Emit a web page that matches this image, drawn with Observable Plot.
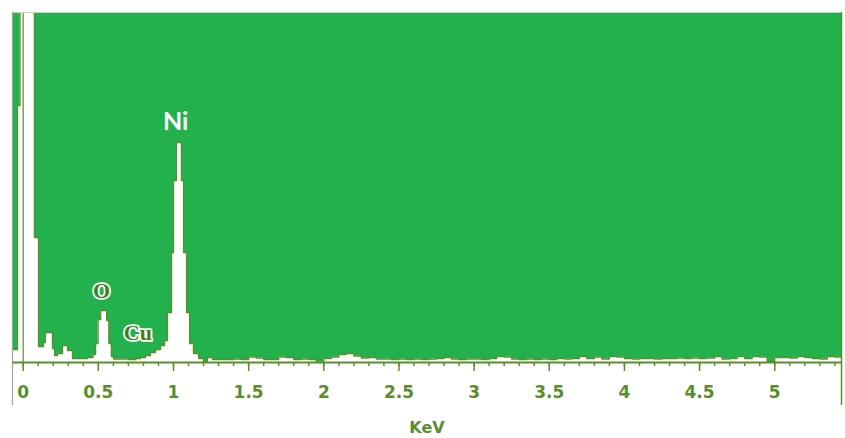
<!DOCTYPE html>
<html><head><meta charset="utf-8">
<script src="https://cdn.jsdelivr.net/npm/d3@7"></script>
<script src="https://cdn.jsdelivr.net/npm/@observablehq/plot@0.6"></script>
<style>body{margin:0;background:#fff}</style>
</head><body><div id="chart"></div>
<script>
// Spectrum: bin start energy (keV) and counts (step-after)
const energy = [-0.071,-0.038,-0.021,0.075,0.102,0.135,0.148,0.195,0.209,0.228,0.262,0.295,0.328,0.348,0.428,
  0.465,0.482,0.498,0.516,0.556,0.571,0.587,0.601,0.70,0.75,0.780,0.814,0.847,0.881,0.914,0.941,0.960,
  0.987,1.000,1.020,1.053,1.067,1.087,1.107,1.133,1.167,1.200,1.226,1.260,
  1.30,1.35,1.40,1.45,1.50,1.55,1.60,1.65,1.70,1.75,1.80,1.85,1.90,1.95,2.00,2.05,2.10,2.15,2.20,2.25,
  2.30,2.35,2.40,2.45,2.50,2.55,2.60,2.65,2.70,2.75,2.80,2.85,2.90,2.95,3.00,3.05,3.10,3.15,3.20,3.25,
  3.30,3.35,3.40,3.45,3.50,3.55,3.60,3.65,3.70,3.75,3.80,3.85,3.90,3.95,4.00,4.05,4.10,4.15,4.20,4.25,
  4.30,4.35,4.40,4.45,4.50,4.55,4.60,4.65,4.70,4.75,4.80,4.85,4.90,4.95,5.00,5.05,5.10,5.15,5.20,5.25,
  5.30,5.35,5.40,5.45];
const counts = [130,2570,4000,1250,160,200,300,140,70,90,170,120,40,40,50,
  80,190,430,520,420,190,60,35,30,40,50,70,100,130,170,220,500,
  1100,1820,2200,1820,1100,500,190,90,40,5,50,30,
  30,30,35,30,55,45,30,30,55,50,30,35,30,5,40,55,80,90,65,45,
  50,35,35,30,35,30,35,30,35,40,50,35,30,35,35,30,40,60,55,35,
  30,35,30,35,30,40,35,40,60,40,55,35,60,55,40,35,40,40,35,40,
  40,45,40,45,40,45,60,35,40,60,40,60,55,10,50,50,45,60,50,40,
  35,60,55,55];

const xDomain = [-0.071, 5.444];
const yDomain = [0, 3500];
const majorTicks = [0, 0.5, 1, 1.5, 2, 2.5, 3, 3.5, 4, 4.5, 5];
const minorTicks = [0,0.1,0.2,0.3,0.4,0.5,0.6,0.7,0.8,0.9,1,1.1,1.2,1.3,1.4,1.5,1.6,1.7,1.8,1.9,2,2.1,2.2,2.3,2.4,2.5,
  2.6,2.7,2.8,2.9,3,3.1,3.2,3.3,3.4,3.5,3.6,3.7,3.8,3.9,4,4.1,4.2,4.3,4.4,4.5,4.6,4.7,4.8,4.9,5,5.1,5.2,5.3,5.4];
const axisLabel = ["KeV"];
const peakNames = ["Ni", "O", "Cu"];
const peakX = [1.015, 0.521, 0.763];
const peakY = [2410, 720, 300];

const green = "#22b14c";
const olive = "#5a8e2c";
const spectrum = energy.map((e, i) => ({e, c: counts[i]}));
const peaks = peakNames.map((n, i) => ({n, x: peakX[i], y: peakY[i]}));

const chart = Plot.plot({
  width: 845, height: 438,
  marginLeft: 12, marginRight: 4, marginTop: 12, marginBottom: 76,
  x: {domain: xDomain, axis: null},
  y: {domain: yDomain, axis: null},
  style: {fontFamily: "DejaVu Sans", background: "#fff"},
  marks: [
    Plot.frame({fill: green, stroke: null}),
    Plot.areaY(spectrum, {x: "e", y: "c", curve: "step-after", fill: "white", clip: true}),
    Plot.lineY(spectrum, {x: "e", y: "c", curve: "step-after", stroke: olive, strokeWidth: 1.3, clip: true}),
    Plot.ruleX([0], {y1: 0, y2: yDomain[1], stroke: olive, strokeWidth: 1.2}),
    Plot.ruleY([yDomain[1]], {stroke: "#c9d6c0", strokeWidth: 1}),
    Plot.ruleX([xDomain[0]], {y1: -430, y2: yDomain[1], stroke: "#9aa892", strokeWidth: 1.2}),
    Plot.ruleX([xDomain[1]], {y1: -430, y2: yDomain[1], stroke: olive, strokeWidth: 1.5}),
    Plot.axisX(minorTicks, {tickSize: 4, tickFormat: () => "", stroke: olive, strokeWidth: 1.5, label: null}),
    Plot.axisX(majorTicks, {tickSize: 9, tickPadding: 14, tickFormat: d => String(d), stroke: olive, fill: olive,
      strokeWidth: 1.5, fontSize: 17, fontWeight: "bold", fontFamily: "DejaVu Sans", label: null}),
    Plot.ruleY([0], {stroke: olive, strokeWidth: 2}),
    Plot.text(axisLabel, {frameAnchor: "bottom", dy: 70, text: d => d, fill: olive, fontSize: 16,
      fontWeight: "bold", fontFamily: "DejaVu Sans"}),
    Plot.text(peaks.filter(d => d.n === "Ni"), {x: "x", y: "y", text: "n", fill: "white", fontSize: 25,
      fontWeight: "bold", fontFamily: "Lato"}),
    Plot.text(peaks.filter(d => d.n !== "Ni"), {x: "x", y: "y", text: "n", fill: "#3f7d22", stroke: "white",
      strokeWidth: 3.5, fontSize: 22, fontWeight: "bold", fontFamily: "Liberation Serif"})
  ]
});
document.getElementById("chart").appendChild(chart);
</script>
</body></html>
